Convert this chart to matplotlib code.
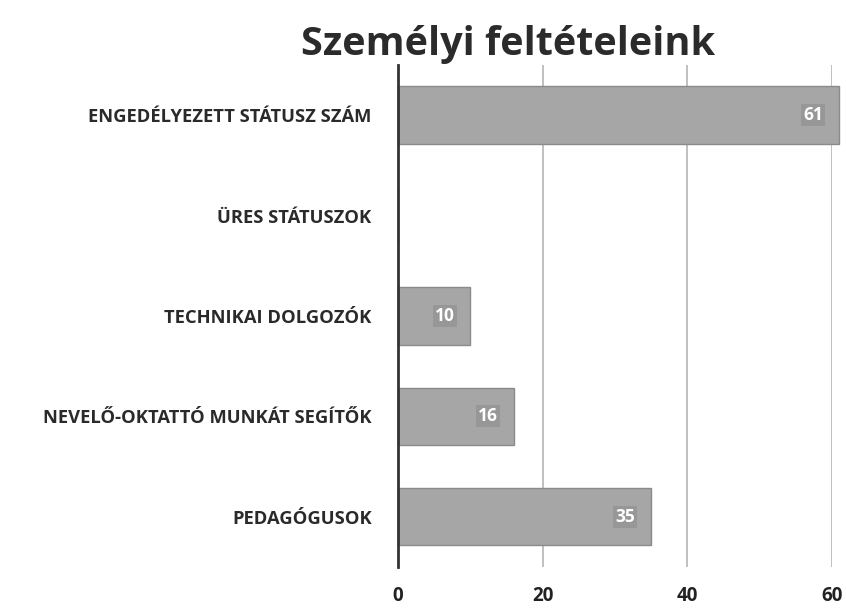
import matplotlib.pyplot as plt

categories = [
    "PEDAGÓGUSOK",
    "NEVELŐ-OKTATTÓ MUNKÁT SEGÍTŐK",
    "TECHNIKAI DOLGOZÓK",
    "ÜRES STÁTUSZOK",
    "ENGEDÉLYEZETT STÁTUSZ SZÁM",
]
values = [35, 16, 10, 0, 61]
xticks = [0, 20, 40, 60]

plt.rcParams["font.family"] = ["Open Sans", "DejaVu Sans"]

fig = plt.figure(figsize=(8.46, 6.12), dpi=100)
ax = fig.add_axes([0.4705, 0.0735, 0.513, 0.8205])

ypos = list(range(len(categories)))
ax.barh(ypos, values, height=0.57, color="#a6a6a6", edgecolor="#8a8a8a",
        linewidth=1.0, clip_on=False, zorder=3)

# value labels inside the bar ends
for y, v in zip(ypos, values):
    if v > 0:
        ax.text(v - 2.2, y, str(v), ha="right", va="center", fontsize=12.5,
                fontweight="bold", color="white", zorder=4,
                bbox=dict(boxstyle="square,pad=0.12", fc="#979797", ec="none"))

ax.set_xlim(0, 60)
ax.set_ylim(-0.5, len(categories) - 0.5)
ax.set_xticks(xticks)
ax.set_xticklabels([str(t) for t in xticks], fontsize=13.5, fontweight="bold",
                   color="#222222")
ax.set_yticks(ypos)
ax.set_yticklabels(categories, fontsize=13.2, fontweight="bold",
                   color="#2a2a2a")
ax.tick_params(axis="both", length=0)
ax.tick_params(axis="x", pad=14)
ax.tick_params(axis="y", pad=19)

ax.grid(axis="x", color="#b5b5b5", linewidth=1.2, zorder=0)
for side in ["top", "right", "bottom"]:
    ax.spines[side].set_visible(False)
ax.spines["left"].set_color("#333333")
ax.spines["left"].set_linewidth(2)
ax.spines["left"].set_zorder(5)

fig.text(0.6, 0.928, "Személyi feltételeink", ha="center", va="center",
         fontsize=28.5, fontweight="bold", color="#2b2b2b")

fig.savefig("out.png", dpi=100)
